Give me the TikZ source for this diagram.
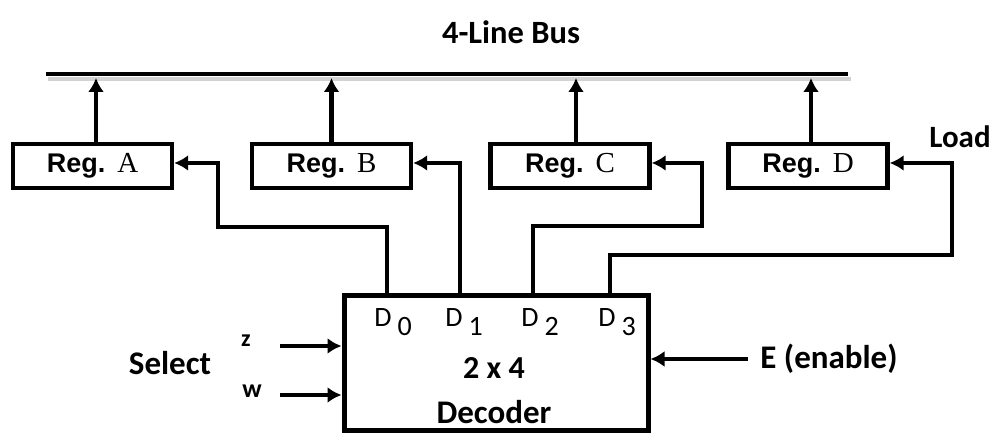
\documentclass[tikz,border=0pt]{standalone}
\usepackage[no-math]{fontspec}
\setmainfont{Carlito}
\newfontfamily\regfont{Liberation Sans}
\newfontfamily\letterfont{Liberation Serif}
\usetikzlibrary{arrows.meta}

\begin{document}
\begin{tikzpicture}[x=0.5pt, y=-0.5pt, >={Latex[length=7pt,width=8pt]}]
    %--------------------%
    % Parameters
    %--------------------%
    \def\regwidth{79.5pt}
    \def\regheight{22pt}
    \def\linethic{2.25pt}
    \def\boxthic{2.2pt}
    \def\loadshift{1.5pt}

    \useasboundingbox (0,0) rectangle (996,437);

    %--------------------%
    % Bus
    %--------------------%
    \draw[line width=2pt, gray!35] (48,79) -- (851,79);
    \draw[line width=\linethic] (46,74) -- (848,74);
    \coordinate (bus) at (0,78);
    \node[font=\bfseries\fontsize{16.25}{18}\selectfont] (title) at (511,32) {4-Line Bus};

    %--------------------%
    % Registers
    %--------------------%
    \node[draw, minimum width=\regwidth, minimum height=\regheight, inner sep=0pt, line width=\boxthic, font=\fontsize{13.5}{15}\selectfont] (regA) at (92.5,166) {{\regfont\bfseries Reg.}\hspace{6pt}{\letterfont\fontsize{14.5}{15}\selectfont A}};
    \node[draw, minimum width=\regwidth, minimum height=\regheight, inner sep=0pt, line width=\boxthic, font=\fontsize{13.5}{15}\selectfont] (regB) at (331.5,166) {{\regfont\bfseries Reg.}\hspace{6pt}{\letterfont\fontsize{14.5}{15}\selectfont B}};
    \node[draw, minimum width=\regwidth, minimum height=\regheight, inner sep=0pt, line width=\boxthic, font=\fontsize{13.5}{15}\selectfont] (regC) at (570,166) {{\regfont\bfseries Reg.}\hspace{6pt}{\letterfont\fontsize{14.5}{15}\selectfont C}};
    \node[draw, minimum width=\regwidth, minimum height=\regheight, inner sep=0pt, line width=\boxthic, font=\fontsize{13.5}{15}\selectfont] (regD) at (808,166) {{\regfont\bfseries Reg.}\hspace{6pt}{\letterfont\fontsize{14.5}{15}\selectfont D}};

    \node[font=\bfseries\fontsize{15.5}{18}\selectfont] (load) at (960,137) {Load};

    %--------------------%
    % Decoder
    %--------------------%
    \node[draw, minimum width=152pt, minimum height=67.5pt, inner sep=0pt, line width=2.5pt] (dec) at (496,363.5) {};
    \node[font=\bfseries\fontsize{16}{18}\selectfont] (size) at (494,368) {2 x 4};
    \node[font=\bfseries\fontsize{16.5}{18}\selectfont] (name) at (494,412) {Decoder};

    \node[font=\fontsize{14}{15}\selectfont] (lab0) at (393,322) {D\hspace{3pt}\raisebox{-4.5pt}{0}};
    \node[font=\fontsize{14}{15}\selectfont] (lab1) at (464,322) {D\hspace{3pt}\raisebox{-4.5pt}{1}};
    \node[font=\fontsize{14}{15}\selectfont] (lab2) at (540,322) {D\hspace{3pt}\raisebox{-4.5pt}{2}};
    \node[font=\fontsize{14}{15}\selectfont] (lab3) at (617,322) {D\hspace{3pt}\raisebox{-4.5pt}{3}};

    \coordinate (d0) at (387,296);
    \coordinate (d1) at (460,296);
    \coordinate (d2) at (533,296);
    \coordinate (d3) at (610,296);

    %--------------------%
    % Inputs
    %--------------------%
    \node[font=\bfseries\fontsize{16.5}{18}\selectfont] (select) at (170,363) {Select};
    \node[font=\bfseries\fontsize{12}{14}\selectfont] (zlab) at (246,341) {z};
    \node[font=\bfseries\fontsize{13}{15}\selectfont] (wlab) at (252,391) {w};
    \node[font=\bfseries\fontsize{16.5}{18}\selectfont, anchor=west, inner sep=2pt] (elab) at (756,359) {E (enable)};

    \coordinate (zin) at (280,346);
    \coordinate (win) at (280,395);
    \coordinate (ein) at (748,359);

    %--------------------%
    % Connections
    %--------------------%
    % Registers to bus
    \draw[->, line width=\linethic] ([xshift=1.75pt]regA.north) -- ([xshift=1.75pt]regA.north |- bus);
    \draw[->, line width=\linethic] (regB.north) -- (regB.north |- bus);
    \draw[->, line width=\linethic] ([xshift=3pt]regC.north) -- ([xshift=3pt]regC.north |- bus);
    \draw[->, line width=\linethic] ([xshift=1.5pt]regD.north) -- ([xshift=1.5pt]regD.north |- bus);

    % Decoder to registers
    \draw[->, line width=\linethic] (d0) |- (218,227) |- ([yshift=\loadshift]regA.east);
    \draw[->, line width=\linethic] (d1) |- ([yshift=\loadshift]regB.east);
    \draw[->, line width=\linethic] (d2) |- (702,226) |- ([yshift=\loadshift]regC.east);
    \draw[->, line width=\linethic] (d3) |- (952,255) |- ([yshift=\loadshift]regD.east);

    % Select and enable
    \draw[->, line width=\linethic] (zin) -- (zin -| dec.west);
    \draw[->, line width=\linethic] (win) -- (win -| dec.west);
    \draw[->, line width=\linethic] (ein) -- (ein -| dec.east);

\end{tikzpicture}
\end{document}
